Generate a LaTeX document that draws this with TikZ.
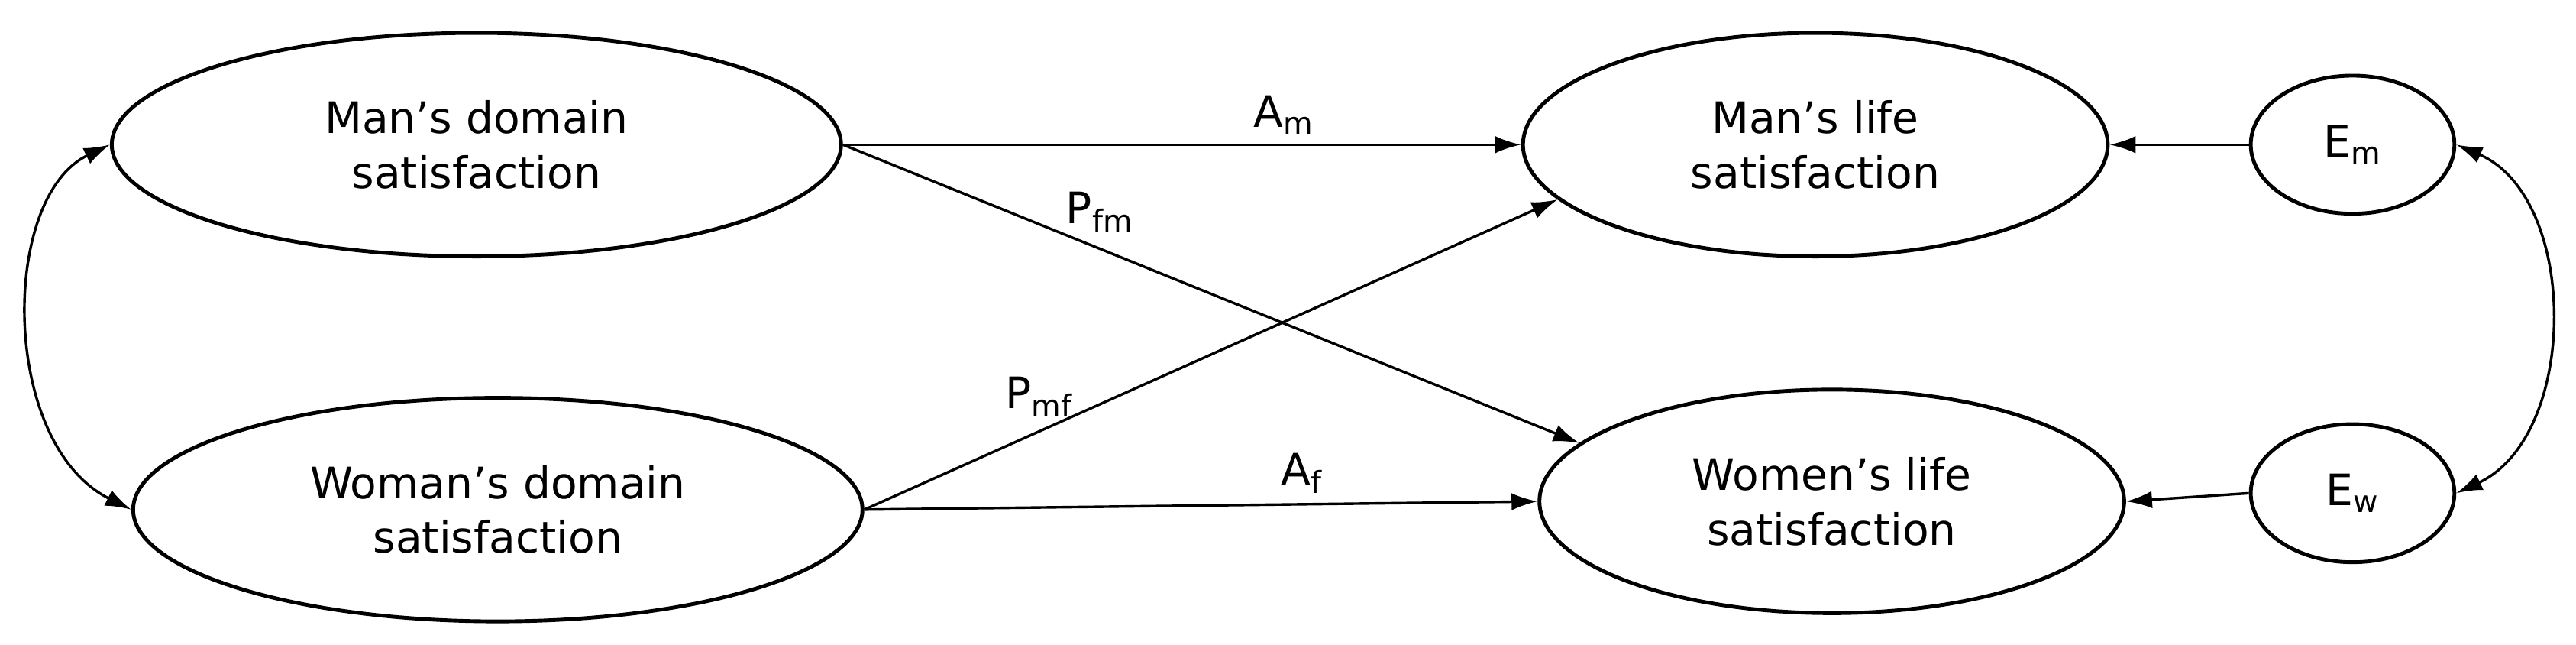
\documentclass[tikz,border=0pt]{standalone}
\usepackage{fontspec}
\setmainfont{DejaVu Sans}
\usetikzlibrary{shapes.geometric,arrows.meta}
\begin{document}
\begin{tikzpicture}[x=0.02cm,y=-0.02cm,
  ell/.style={draw,line width=1.3pt,ellipse,inner sep=0pt,align=center,font=\fontsize{15}{19}\selectfont},
  arr/.style={-{Latex[length=9pt,width=6pt]},line width=0.9pt},
  lab/.style={font=\fontsize{15}{18}\selectfont}]
\useasboundingbox (0,0) rectangle (1568,392);
\node[ell,minimum width=8.88cm,minimum height=2.72cm] (md) at (290,88) {Man’s domain\\satisfaction};
\node[ell,minimum width=8.88cm,minimum height=2.72cm] (wd) at (303,310) {Woman’s domain\\satisfaction};
\node[ell,minimum width=7.12cm,minimum height=2.72cm] (ml) at (1105,88) {Man’s life\\satisfaction};
\node[ell,minimum width=7.12cm,minimum height=2.72cm] (wl) at (1115,305) {Women’s life\\satisfaction};
\node[ell,minimum width=2.48cm,minimum height=1.68cm] (em) at (1432,88) {E\textsubscript{m}};
\node[ell,minimum width=2.48cm,minimum height=1.68cm] (ew) at (1432,300) {E\textsubscript{w}};
\draw[arr] (md.east) -- (ml.west) node[lab,pos=0.65,above] {A\textsubscript{m}};
\draw[arr] (md.east) -- (wl.167.5) node[lab,pos=0.3,above right=-3pt] {P\textsubscript{fm}};
\draw[arr] (wd.east) -- (ml.192) node[lab,pos=0.3,above left=-4pt] {P\textsubscript{mf}};
\draw[arr] (wd.east) -- (wl.west) node[lab,pos=0.65,above] {A\textsubscript{f}};
\draw[arr] (em.west) -- (ml.east);
\draw[arr] (ew.west) -- (wl.east);
\draw[{Latex[length=9pt,width=6pt]}-{Latex[length=9pt,width=6pt]},line width=0.9pt] (md.west) .. controls (0,120) and (0,270) .. (wd.west);
\draw[{Latex[length=9pt,width=6pt]}-{Latex[length=9pt,width=6pt]},line width=0.9pt] (em.east) .. controls (1570,120) and (1570,265) .. (ew.east);
\end{tikzpicture}
\end{document}
